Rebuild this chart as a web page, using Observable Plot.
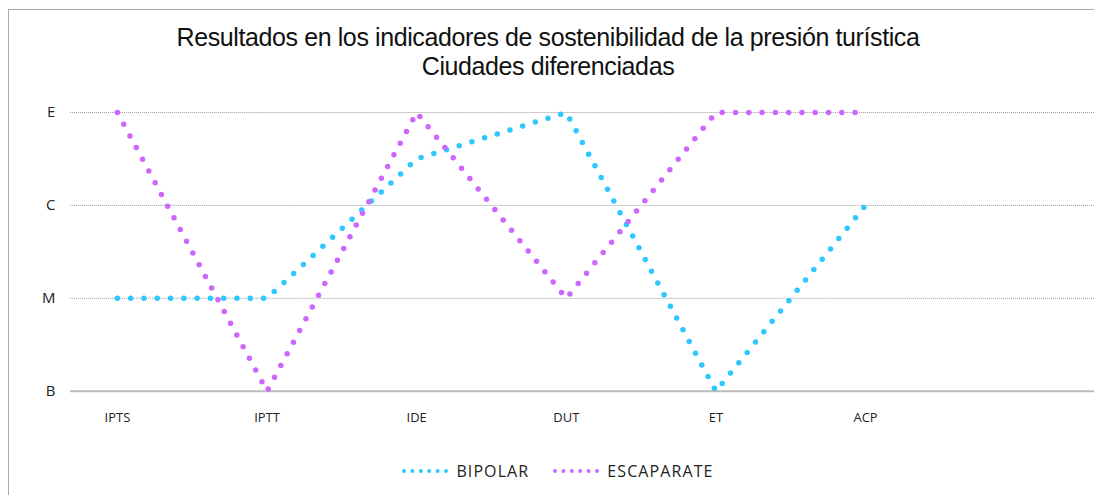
<!DOCTYPE html>
<html>
<head>
<meta charset="utf-8">
<script src="https://cdn.jsdelivr.net/npm/d3@7"></script>
<script src="https://cdn.jsdelivr.net/npm/@observablehq/plot@0.6"></script>
<style>
  html, body { margin: 0; padding: 0; background: #fff; }
  #frame {
    position: relative; width: 1086px; height: 486px;
    margin: 9px 0 0 8px;
    border-left: 1px solid #aaa; border-top: 1px solid #aaa;
    box-sizing: border-box; overflow: hidden;
  }
  #title {
    position: absolute; left: -8px; top: 13px; width: 1094px;
    text-align: center; font-family: "Liberation Sans", Arial, sans-serif;
    font-size: 25px; line-height: 29px; color: #111; letter-spacing: -0.4px;
  }
  #chart { position: absolute; left: -8px; top: 86px; }
  #legend {
    position: absolute; left: 2px; top: 450px; width: 1094px;
    display: flex; justify-content: center; align-items: center;
    font-family: "Open Sans", sans-serif; font-size: 16px; letter-spacing: 1.1px; color: #222;
  }
  .item { display: flex; align-items: center; }
  .item svg { margin-right: 8px; }
</style>
</head>
<body>
<div id="frame">
  <div id="title">Resultados en los indicadores de sostenibilidad de la presión turística<br>Ciudades diferenciadas</div>
  <div id="chart"></div>
  <div id="legend"></div>
</div>
<script>
// Indicators on the x axis and the qualitative levels on the y axis
const indicators = ["IPTS", "IPTT", "IDE", "DUT", "ET", "ACP"];
const levels = ["B", "M", "C", "E"];

// Series values as positions on the level scale (B=0, M=1, C=2, E=3)
const bipolar = [1, 1, 2.5, 3, 0, 2];
const escaparate = [3, 0, 3, 1, 3, 3];

const seriesNames = ["BIPOLAR", "ESCAPARATE"];
const seriesColors = ["#2ec8ff", "#cc66ff"];

const rows = [
  ...bipolar.map((v, i) => ({serie: seriesNames[0], i, v})),
  ...escaparate.map((v, i) => ({serie: seriesNames[1], i, v}))
];

const dotted = {strokeWidth: 5.5, strokeDasharray: "0 13.3", strokeLinecap: "round"};

const chart = Plot.plot({
  width: 1094,
  height: 340,
  marginLeft: 69,
  marginRight: 0,
  marginTop: 16,
  marginBottom: 45,
  style: {fontFamily: "Open Sans, sans-serif", fontSize: "13px", color: "#222", background: "transparent"},
  x: {domain: [-0.314, 6.53], axis: null},
  y: {domain: [0, 3], axis: null},
  color: {domain: seriesNames, range: seriesColors},
  marks: [
    Plot.ruleY([1, 2, 3], {stroke: "#999", strokeWidth: 1, strokeDasharray: "1 1"}),
    Plot.ruleY([0], {stroke: "#bbb", strokeWidth: 2}),
    Plot.axisY({ticks: [0, 1, 2, 3], tickFormat: d => levels[d], tickSize: 0, tickPadding: 15, fontSize: 15, anchor: "left", label: null}),
    Plot.axisX({ticks: d3.range(indicators.length), tickFormat: d => indicators[d], tickSize: 0, tickPadding: 22, anchor: "bottom", label: null}),
    Plot.line(rows, {x: "i", y: "v", z: "serie", stroke: "serie", ...dotted})
  ]
});
document.getElementById("chart").append(chart);

// Legend with dotted swatches
const legend = document.getElementById("legend");
seriesNames.forEach((name, k) => {
  const item = document.createElement("div");
  item.className = "item";
  item.style.marginRight = k === 0 ? "24px" : "0";
  item.innerHTML = `<svg width="46" height="8"><line x1="2" x2="44" y1="4" y2="4" stroke="${seriesColors[k]}" stroke-width="4" stroke-dasharray="0 8.4" stroke-linecap="round"/></svg><span>${name}</span>`;
  legend.append(item);
});
</script>
</body>
</html>
